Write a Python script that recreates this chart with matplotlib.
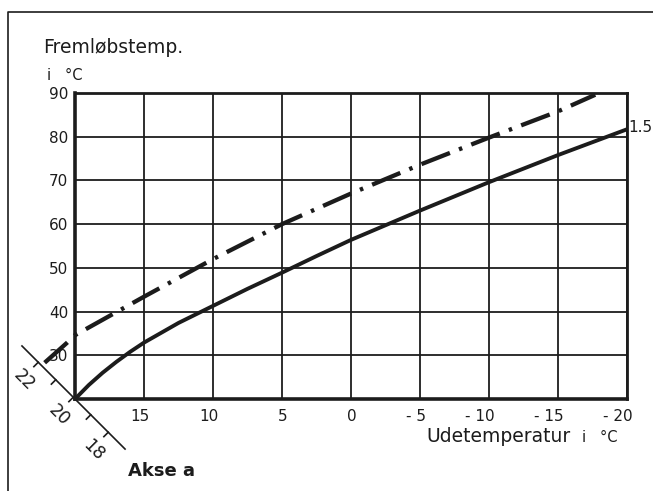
import matplotlib
matplotlib.use('Agg')
import matplotlib.pyplot as plt
import matplotlib.transforms as mtransforms
from matplotlib.lines import Line2D
import numpy as np

# heating curve 1.5 (outdoor temp -> flow temp)
out_temp = [20, 19, 18, 17, 16, 15, 12.5, 10, 7.5, 5, 2.5, 0, -5, -10, -15, -20]
flow_15 = [20, 23.2, 26.0, 28.5, 30.8, 32.9, 37.4, 41.3, 45.2, 48.9, 52.7, 56.4, 63.1, 69.6, 75.8, 81.7]

# dash-dot curve (runs a little past the left axis)
dd_temp = [22.2, 20.6, 20, 15, 10, 5, 0, -5, -10, -15, -17.7]
dd_flow = [28.3, 32.8, 34.6, 43.4, 52.0, 60.0, 67.0, 73.6, 79.8, 85.8, 89.6]

x_ticks = [15, 10, 5, 0, -5, -10, -15, -20]
x_labels = ['15', '10', '5', '0', '- 5', '- 10', '- 15', '- 20']
y_ticks = [30, 40, 50, 60, 70, 80, 90]

# room temperature scale "Akse a"
room_ticks = [22, 21, 20, 19, 18]
room_labels = [22, 20, 18]

plt.rcParams['font.family'] = ['DejaVu Sans']
plt.rcParams['lines.scale_dashes'] = False
ink = '#1c1c1c'

fig = plt.figure(figsize=(6.53, 4.91), dpi=100)
ax = fig.add_axes([75/653, 1-399/491, 552/653, 306/491])
ax.set_xlim(20, -20)
ax.set_ylim(20, 90)

ax.set_xticks(x_ticks)
ax.set_xticklabels(x_labels)
ax.set_yticks(y_ticks)
ax.tick_params(length=0, labelsize=11, colors=ink, pad=5)
ax.tick_params(axis='x', pad=7)
ax.grid(True, color=ink, lw=1.3)
for s in ax.spines.values():
    s.set_linewidth(2.0)
    s.set_color(ink)
ax.spines['left'].set_linewidth(2.6)
ax.spines['bottom'].set_linewidth(2.6)

shift = mtransforms.ScaledTranslation(4/72, 0, fig.dpi_scale_trans)
for lab in ax.get_xticklabels():
    lab.set_horizontalalignment('right')
    lab.set_transform(lab.get_transform() + shift)

ax.plot(out_temp, flow_15, color=ink, lw=2.8, solid_capstyle='butt')
ax.plot(dd_temp, dd_flow, color=ink, lw=3.1, dashes=(22, 7, 2.5, 7), clip_on=False)
ax.annotate('1.5', xy=(-20, flow_15[-1]), xytext=(1, 1), textcoords='offset points',
            ha='left', va='center', fontsize=11, color=ink, annotation_clip=False)

# labels
fig.text(43/653, 1-53/491, 'Fremløbstemp.', fontsize=13.5, color=ink, va='baseline')
fig.text(47/653, 1-80/491, 'i   °C', fontsize=10.5, color=ink, va='baseline')
fig.text(426/653, 1-442/491, 'Udetemperatur', fontsize=13.5, color=ink, va='baseline')
fig.text(582/653, 1-442/491, 'i   °C', fontsize=10.5, color=ink, va='baseline')
fig.text(128/653, 1-476/491, 'Akse a', fontsize=13, color=ink, va='baseline', weight='bold')

# diagonal room-temp axis through the lower-left corner
k = 0.175
diag = (mtransforms.Affine2D(np.array([[k, -k, 0], [-k, -k, 0], [0, 0, 1]]))
        + fig.dpi_scale_trans
        + mtransforms.ScaledTranslation(20, 20, ax.transData))
ax.add_line(Line2D([-3.03, 2.86], [0, 0], transform=diag, color=ink, lw=1.2, clip_on=False))
for t in room_ticks:
    a = 20 - t - 0.1
    ax.add_line(Line2D([a, a], [0, 0.25], transform=diag, color=ink, lw=1.2, clip_on=False))
for t in room_labels:
    ax.text(20 - t, 0.92, str(t), transform=diag, rotation=-45, ha='center', va='center',
            fontsize=12.5, color=ink, clip_on=False, rotation_mode='anchor')

# outer frame
fig.add_artist(Line2D([8/653, 8/653, 1], [0, 1-12/491, 1-12/491],
                      transform=fig.transFigure, color=ink, lw=1.2))

fig.savefig('out.png', dpi=100)
